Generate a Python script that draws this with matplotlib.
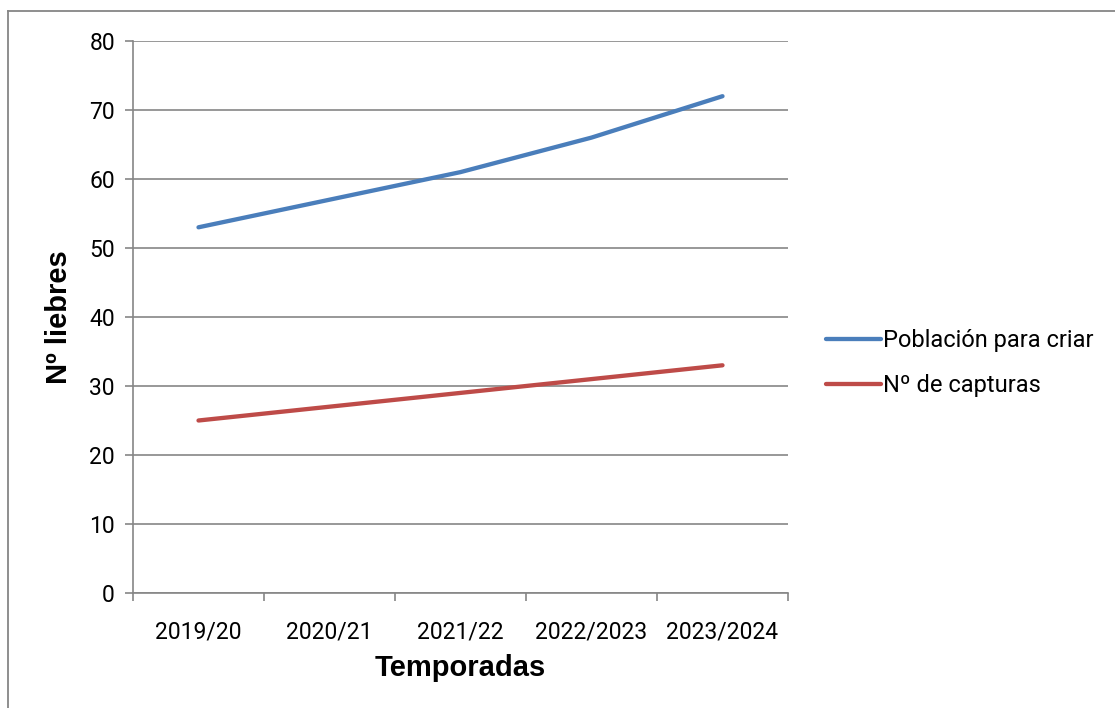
import matplotlib.pyplot as plt
from matplotlib.lines import Line2D

# Datos
temporadas = ['2019/20', '2020/21', '2021/22', '2022/2023', '2023/2024']
poblacion = [53, 57, 61, 66, 72]
capturas = [25, 27, 29, 31, 33]

W, H = 1115, 708
fig = plt.figure(figsize=(W / 100, H / 100), dpi=100)

# Axes placed in pixel coordinates of the reference
left, right, top, bottom = 133, 788, 41, 593
ax = fig.add_axes([left / W, 1 - bottom / H, (right - left) / W, (bottom - top) / H])

grey = '#868686'
font = 'Roboto'
x = list(range(len(temporadas)))
ax.plot(x, poblacion, color='#4A7EBB', lw=3.1, solid_capstyle='round', label='Población para criar')
ax.plot(x, capturas, color='#BE4B48', lw=3.1, solid_capstyle='round', label='Nº de capturas')

ax.set_xlim(-0.5, len(temporadas) - 0.5)
ax.set_ylim(0, 80)
ax.set_yticks(range(0, 81, 10))
ax.yaxis.grid(True, color=grey, lw=1.2)
ax.set_axisbelow(True)

# category boundaries as major ticks, labels on minor ticks
ax.set_xticks([i - 0.5 for i in range(len(temporadas) + 1)])
ax.set_xticklabels([])
ax.set_xticks(x, minor=True)
ax.set_xticklabels(temporadas, minor=True, fontsize=16.5, family=font)
ax.tick_params(axis='x', which='minor', length=0, pad=19.5)
ax.tick_params(axis='x', which='major', length=6, color=grey, width=1.2)
ax.tick_params(axis='y', length=6, color=grey, width=1.2, pad=7)
for lbl in ax.get_yticklabels():
    lbl.set_fontsize(16.5)
    lbl.set_family(font)

for s in ['top', 'right']:
    ax.spines[s].set_visible(False)
for s in ['left', 'bottom']:
    ax.spines[s].set_color(grey)
    ax.spines[s].set_linewidth(1.2)

ax.set_xlabel('Temporadas', fontsize=21, fontweight='bold', family='Liberation Sans', labelpad=8)
ax.set_ylabel('Nº liebres', fontsize=21, fontweight='bold', family='Liberation Sans', labelpad=12)

fig.legend(loc='center left', bbox_to_anchor=(805 / W, 1 - 363 / H), frameon=False,
           handlelength=2.3, handletextpad=0.12, labelspacing=0.95,
           prop={'family': font, 'size': 17})

# chart area border (top and left edges visible)
fig.add_artist(Line2D([8 / W, 8 / W], [0, 1 - 11 / H], transform=fig.transFigure, color=grey, lw=1.3))
fig.add_artist(Line2D([8 / W, 1], [1 - 11 / H, 1 - 11 / H], transform=fig.transFigure, color=grey, lw=1.3))

fig.savefig('out.png', dpi=100)
